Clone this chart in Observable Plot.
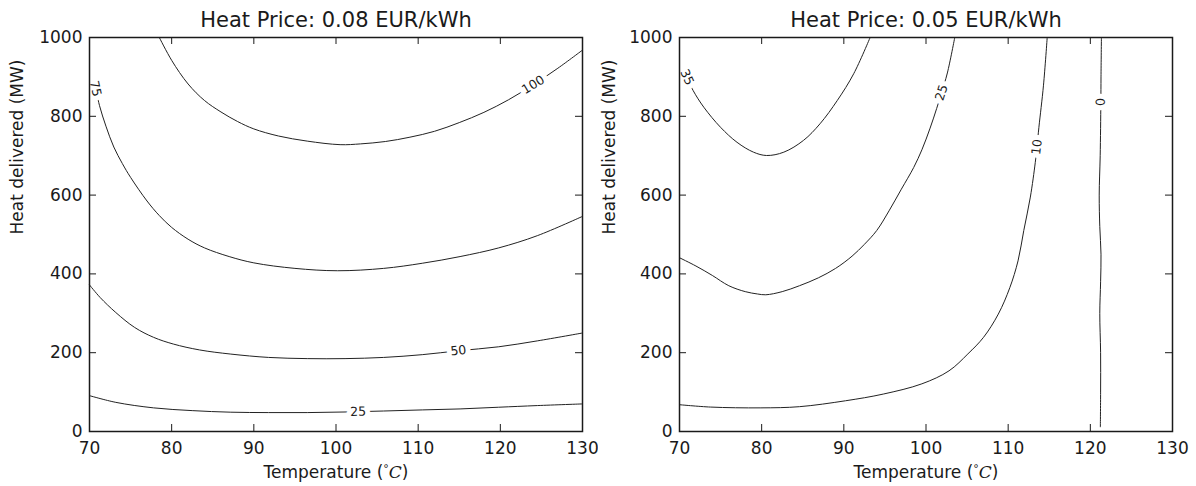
<!DOCTYPE html>
<html><head><meta charset="utf-8">
<script src="https://cdn.jsdelivr.net/npm/d3@7"></script>
<script src="https://cdn.jsdelivr.net/npm/@observablehq/plot@0.6"></script>
<style>
body{margin:0;background:#fff;}
#wrap{display:flex;width:1196px;height:486px;}
#wrap svg{display:block;}
</style></head><body><div id="wrap"></div>
<script>
// ---- data ----
const xTicks = [70, 80, 90, 100, 110, 120, 130];
const yTicks = [0, 200, 400, 600, 800, 1000];
const titleA = "Heat Price: 0.08 EUR/kWh";
const titleB = "Heat Price: 0.05 EUR/kWh";
const xLabel = "Temperature (°C)";
const yLabel = "Heat delivered (MW)";

// Panel A (0.08 EUR/kWh) contour lines: [temperature, heat]
const a25 = [[70,91],[73.2,74],[77.8,60],[82.5,53],[87.2,49],[91.8,48],[96.5,48],[101.1,49.5],[105.8,52],[110.5,54.8],[115.1,57.3],[119.8,61.6],[124.5,65.8],[130,70]];
const a50 = [[70,372],[71.3,340],[73.2,302],[75.5,264],[77.8,239],[80.2,222],[83.4,207],[87.2,196.5],[91.8,188],[96.5,185],[101.1,185],[105.8,188],[110.5,195],[114.9,205],[119.8,215],[124.5,230],[130,250]];
const a75 = [[70.6,885],[71.22,827],[72.0,775],[72.96,722],[74.0,680],[75.0,645],[77.0,585],[78.5,548],[80.0,518],[82,488],[84,466],[87,444],[90,428],[95,414],[100.2,408],[105.8,414],[110.5,427],[115.1,444],[119.8,466],[124.5,497],[130,546]];
const a100 = [[78.5,1000],[80,942],[82,882],[84,840],[86,811],[88,787],[90,768],[93,750],[96.5,737],[100.5,728],[103,730],[106,736],[109,747],[112,762],[115,784],[118,810],[121,842],[124,880],[127,922],[130,968]];
const levelsA = [25, 50, 75, 100];
const labelsA = [{level:25, x:102.7, y:50}, {level:50, x:114.9, y:205}, {level:75, x:70.73, y:870}, {level:100, x:124.0, y:880}];

// Panel B (0.05 EUR/kWh)
const b0 = [[121.35,1000],[121.3,900],[121.28,835],[121.2,700],[121.08,600],[121.15,520],[121.3,450],[121.25,380],[121.15,300],[121.25,200],[121.25,100],[121.22,12]];
const b10 = [[70,68],[73.8,62],[79.9,60],[84.6,63],[90.2,78],[94.8,95],[99.5,121],[102.8,154],[105.1,197],[107.0,239],[108.8,298],[110.2,365],[111.2,433],[111.9,510],[112.7,595],[113.3,683],[113.5,722],[113.74,772],[114.3,879],[114.75,1000]];
const b25 = [[70,441],[72,420],[74,396],[76,370],[78,355],[79.5,349],[80.5,347],[82.5,355],[84.6,370],[86.9,390],[89,414],[91,445],[92.5,475],[94,510],[95.5,560],[97,615],[98.5,670],[99.5,715],[100.5,770],[101.3,820],[101.9,860],[102.6,910],[103.5,1000]];
const b35 = [[70.9,899],[71.67,865],[72.96,823],[75.0,772],[77.0,734],[79.0,709],[80.6,700.5],[82.7,709],[85.1,739],[87.1,781],[89.2,840],[91.2,908],[93.2,1000]];
const levelsB = [0, 10, 25, 35];
const labelsB = [{level:35, x:70.9, y:899}, {level:25, x:101.9, y:860}, {level:10, x:113.5, y:722}, {level:0, x:121.28, y:836}];

// ---- drawing ----
function angleAt(pts, lx, ly, xs, ys) {
  const P = pts.map(([x, y]) => [xs(x), ys(y)]);
  const L = [xs(lx), ys(ly)];
  let best = Infinity, ang = 0;
  for (let i = 0; i < P.length - 1; i++) {
    const [x1, y1] = P[i], [x2, y2] = P[i + 1];
    const dx = x2 - x1, dy = y2 - y1;
    const t = Math.max(0, Math.min(1, ((L[0] - x1) * dx + (L[1] - y1) * dy) / (dx * dx + dy * dy)));
    const d = Math.hypot(x1 + t * dx - L[0], y1 + t * dy - L[1]);
    if (d < best) { best = d; ang = Math.atan2(dy, dx) * 180 / Math.PI; }
  }
  if (ang > 90) ang -= 180;
  if (ang < -90) ang += 180;
  return ang;
}

function panel(curves, levels, labels, title, ml, mr, yDx) {
  const W = 598, H = 486, mt = 37, mb = 55;
  const pw = W - ml - mr, ph = H - mt - mb;
  const xs = d3.scaleLinear([70, 130], [ml, W - mr]);
  const ys = d3.scaleLinear([0, 1000], [H - mb, mt]);
  const rows = curves.flatMap((c, i) => c.map(([x, y]) => ({level: levels[i], x, y})));
  const labs = labels.map(l => ({...l, angle: angleAt(curves[levels.indexOf(l.level)], l.x, l.y, xs, ys)}));
  const ink = "#1a1a1a";
  const svg = Plot.plot({
    width: W, height: H, marginTop: mt, marginBottom: mb, marginLeft: ml, marginRight: mr,
    x: {domain: [70, 130]}, y: {domain: [0, 1000]},
    style: {fontFamily: "DejaVu Sans", fontSize: "17px", color: ink, background: "white"},
    marks: [
      Plot.line(rows, {x: "x", y: "y", z: "level", stroke: "#222", strokeWidth: 1, curve: "catmull-rom"}),
      Plot.text(labs, {x: "x", y: "y", text: d => String(d.level), rotate: "angle", fontSize: 12.5, fill: ink,
        stroke: "white", strokeWidth: 10, strokeLinejoin: "round", paintOrder: "stroke"}),
      Plot.tickX(xTicks, {x: d => d, insetTop: ph - 7, stroke: ink}),
      Plot.tickX(xTicks, {x: d => d, insetBottom: ph - 7, stroke: ink}),
      Plot.tickY(yTicks, {y: d => d, insetRight: pw - 7, stroke: ink}),
      Plot.tickY(yTicks, {y: d => d, insetLeft: pw - 7, stroke: ink}),
      Plot.axisX({ticks: xTicks, tickSize: 0, tickPadding: 10, label: null, fontSize: 17, tickFormat: d => String(d)}),
      Plot.axisY({ticks: yTicks, tickSize: 0, tickPadding: 7, label: null, fontSize: 17, tickFormat: d => String(d)}),
      Plot.text([title], {frameAnchor: "top", lineAnchor: "middle", dy: -17, fontSize: 21, fill: ink}),
      Plot.text([xLabel], {frameAnchor: "bottom", lineAnchor: "middle", dy: 41, fontSize: 17, fill: ink}),
      Plot.text([yLabel], {frameAnchor: "left", lineAnchor: "middle", dx: yDx, rotate: -90, fontSize: 17, fill: ink}),
      Plot.frame({stroke: ink, strokeWidth: 1.5})
    ]
  });
  // math-style "°C" in the x label
  svg.querySelectorAll("text").forEach(t => {
    if (t.textContent === xLabel) {
      t.textContent = "";
      const ns = "http://www.w3.org/2000/svg";
      const add = (s, attrs) => { const e = document.createElementNS(ns, "tspan"); e.textContent = s; for (const k in attrs) e.setAttribute(k, attrs[k]); t.appendChild(e); };
      add("Temperature (", {});
      add("°", {dy: "-6", "font-size": "11"});
      add("C", {dy: "6", "font-family": "DejaVu Serif", "font-style": "italic"});
      add(")", {});
    }
  });
  return svg;
}

const wrap = document.getElementById("wrap");
wrap.appendChild(panel([a25, a50, a75, a100], levelsA, labelsA, titleA, 89, 16, -72));
wrap.appendChild(panel([b0, b10, b25, b35], levelsB, labelsB, titleB, 81, 24, -70));
</script>
</body></html>
